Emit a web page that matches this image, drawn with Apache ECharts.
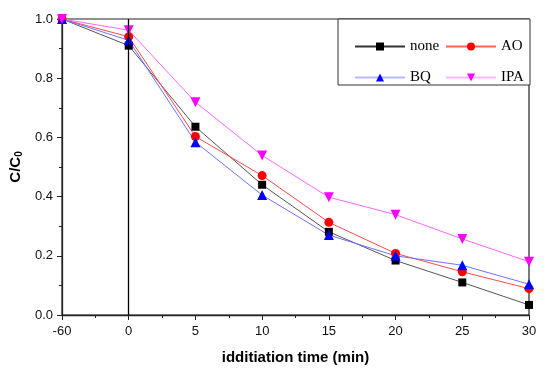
<!DOCTYPE html>
<html><head><meta charset="utf-8">
<script src="https://cdn.jsdelivr.net/npm/echarts@6/dist/echarts.min.js"></script>
<style>html,body{margin:0;padding:0;background:#fff}#c{width:550px;height:375px}</style>
</head><body><div id="c"></div>
<script>
const categories = ['-60','0','5','10','15','20','25','30'];
const noneVals = [1.0, 0.91, 0.636, 0.44, 0.281, 0.184, 0.110, 0.034];
const aoVals   = [1.0, 0.94, 0.603, 0.471, 0.313, 0.208, 0.146, 0.089];
const bqVals   = [1.0, 0.928, 0.584, 0.405, 0.270, 0.200, 0.168, 0.104];
const ipaVals  = [1.0, 0.962, 0.719, 0.539, 0.398, 0.339, 0.257, 0.180];
const yTicks = [0.0, 0.2, 0.4, 0.6, 0.8, 1.0];

const pts = v => v.map((y,i)=>[i,y]);
const chart = echarts.init(document.getElementById('c'));
const mk = (name, vals, lineColor, symColor, symbol, size, rot) => ({
  name, type:'line', data: pts(vals), symbol, symbolSize:size, symbolRotate: rot||0,
  lineStyle:{color:lineColor, width:1}, itemStyle:{color:symColor}, z:3
});
const series = [
  mk('none', noneVals, '#555', '#000', 'rect', 8),
  mk('AO', aoVals, '#ff4a4a', '#ff0000', 'circle', 9),
  mk('BQ', bqVals, '#7070ff', '#0000ff', 'triangle', 10),
  mk('IPA', ipaVals, '#ff66ff', '#ff00ff', 'triangle', 10, 180)
];
series[0].markLine = {silent:true, symbol:'none', label:{show:false},
  lineStyle:{color:'#000', type:'solid', width:1.3}, data:[{xAxis:1}]};
const legendText = {fontFamily:'Liberation Serif', fontSize:15, color:'#000', padding:[7,0,0,0]};
chart.setOption({
  animation:false,
  grid:{left:62, right:21, top:19, bottom:60, show:true, borderColor:'#222', borderWidth:1.2},
  xAxis:{type:'value', min:0, max:categories.length-1, interval:1,
    name:'idditiation time (min)', nameLocation:'middle', nameGap:35,
    nameTextStyle:{fontFamily:'Liberation Sans', fontWeight:'bold', fontSize:15, color:'#000'},
    axisLine:{lineStyle:{color:'#222', width:1.3}},
    axisTick:{show:true, inside:false, length:5, lineStyle:{color:'#222'}},
    minorTick:{show:true, splitNumber:2, length:3, lineStyle:{color:'#222'}},
    splitLine:{show:false},
    axisLabel:{formatter:v=>categories[v], fontFamily:'Liberation Sans', fontSize:13, color:'#111', margin:10}},
  yAxis:{type:'value', min:0, max:1, interval:0.2,
    name:'C/C{s|0}', nameLocation:'middle', nameGap:37, nameRotate:90,
    nameTextStyle:{fontFamily:'Liberation Sans', fontWeight:'bold', fontSize:15, color:'#000',
      rich:{s:{fontFamily:'Liberation Sans', fontWeight:'bold', fontSize:10, verticalAlign:'bottom', padding:[6,0,0,0]}}},
    axisLine:{show:true, lineStyle:{color:'#222', width:1.3}},
    axisTick:{show:true, inside:false, length:5, lineStyle:{color:'#222'}},
    minorTick:{show:true, splitNumber:2, length:3, lineStyle:{color:'#222'}},
    splitLine:{show:false},
    axisLabel:{formatter:v=>{const t=yTicks.find(x=>Math.abs(x-v)<1e-6);return t===undefined?'':t.toFixed(1);},
      fontFamily:'Liberation Sans', fontSize:13, color:'#111', margin:9}},
  graphic:[{type:'rect', shape:{x:338, y:19, width:192, height:66}, style:{fill:'#fff', stroke:'#333', lineWidth:1}, z:5}],
  legend:[
    {left:354, top:39, padding:0, orient:'vertical', itemWidth:50, itemHeight:10, itemGap:16, z:10,
      data:[{name:'none', lineStyle:{color:'#333'}}, {name:'BQ', lineStyle:{color:'#b8b8ff'}}],
      textStyle:legendText},
    {left:445, top:39, padding:0, orient:'vertical', itemWidth:50, itemHeight:10, itemGap:16, z:10,
      data:[{name:'AO', lineStyle:{color:'#ff6060'}}, {name:'IPA', lineStyle:{color:'#ffb8ff'}}],
      textStyle:legendText}
  ],
  series
});
</script></body></html>
